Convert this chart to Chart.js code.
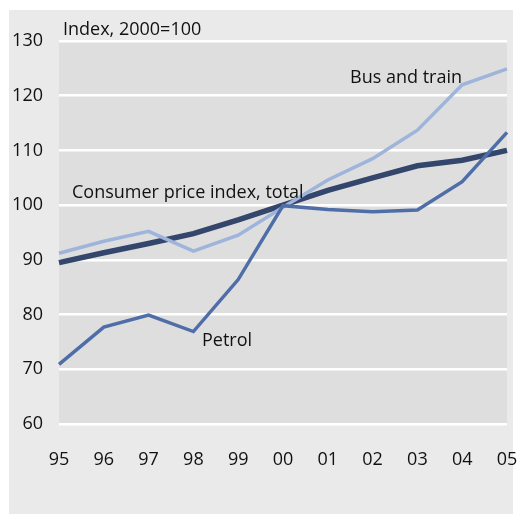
<!DOCTYPE html>
<html>
<head>
<meta charset="utf-8">
<script src="https://cdn.jsdelivr.net/npm/chart.js@4"></script>
<style>
html,body{margin:0;padding:0;background:#fff;}
#wrap{position:relative;width:523px;height:514px;}
</style>
</head>
<body>
<div id="wrap"><canvas id="c" width="523" height="514"></canvas></div>
<script>
const years = ['95','96','97','98','99','00','01','02','03','04','05'];
const cpiTotal = [89.5, 91.3, 93.0, 94.8, 97.3, 100.0, 102.7, 105.0, 107.2, 108.2, 110.0];
const busTrain = [91.2, 93.4, 95.2, 91.6, 94.5, 99.6, 104.6, 108.5, 113.7, 122.0, 124.9];
const petrol = [70.9, 77.7, 79.9, 76.9, 86.4, 99.9, 99.2, 98.8, 99.1, 104.3, 113.3];
const yTicks = [60, 70, 80, 90, 100, 110, 120, 130];
const unitLabel = 'Index, 2000=100';
const seriesLabels = ['Consumer price index, total', 'Bus and train', 'Petrol'];

const FONT = '"Open Sans", "Noto Sans", sans-serif';

const bgPlugin = {
  id: 'bg',
  beforeDraw(chart) {
    const ctx = chart.ctx, a = chart.chartArea;
    ctx.save();
    ctx.fillStyle = '#ffffff';
    ctx.fillRect(0, 0, chart.width, chart.height);
    ctx.fillStyle = '#eaeaea';
    ctx.fillRect(9, 10, 504, 504);
    ctx.fillStyle = '#dedede';
    ctx.fillRect(a.left, a.top, a.right - a.left, a.bottom - a.top);
    ctx.restore();
  },
  afterDraw(chart) {
    const ctx = chart.ctx;
    ctx.save();
    ctx.fillStyle = '#111';
    ctx.font = '18px ' + FONT;
    ctx.textBaseline = 'alphabetic';
    ctx.textAlign = 'left';
    ctx.fillText(unitLabel, 63, 35);
    ctx.fillText(seriesLabels[0], 72, 198);
    ctx.fillText(seriesLabels[1], 350, 83);
    ctx.fillText(seriesLabels[2], 202, 346);
    ctx.restore();
  }
};

new Chart(document.getElementById('c'), {
  type: 'line',
  data: {
    labels: years,
    datasets: [
      { label: seriesLabels[0], data: cpiTotal, borderColor: '#35466c', borderWidth: 5.5, order: 2 },
      { label: seriesLabels[1], data: busTrain, borderColor: '#9fb4da', borderWidth: 3.5, order: 1 },
      { label: seriesLabels[2], data: petrol, borderColor: '#4f6ea8', borderWidth: 3.5, order: 0 }
    ]
  },
  options: {
    responsive: false,
    animation: false,
    devicePixelRatio: 1,
    elements: { point: { radius: 0 }, line: { tension: 0, borderCapStyle: 'butt', borderJoinStyle: 'miter' } },
    layout: { padding: { top: 41, right: 16, bottom: 0, left: 0 } },
    plugins: { legend: { display: false }, tooltip: { enabled: false } },
    scales: {
      x: {
        offset: false,
        grid: { display: false, drawTicks: false },
        border: { display: false },
        ticks: { color: '#111', font: { family: FONT, size: 18 }, padding: 25, maxRotation: 0, autoSkip: false },
        afterFit(s) { s.height = 90; s.paddingRight = 0; s.paddingLeft = 0; }
      },
      y: {
        min: 60, max: 130,
        afterBuildTicks(s) { s.ticks = yTicks.map(v => ({ value: v })); },
        grid: { color: '#ffffff', lineWidth: 2.5, drawTicks: false },
        border: { display: false },
        ticks: { color: '#111', font: { family: FONT, size: 18 }, padding: 16 },
        afterFit(s) { s.width = 59; s.paddingTop = 0; s.paddingBottom = 0; }
      }
    }
  },
  plugins: [bgPlugin]
});
</script>
</body>
</html>
